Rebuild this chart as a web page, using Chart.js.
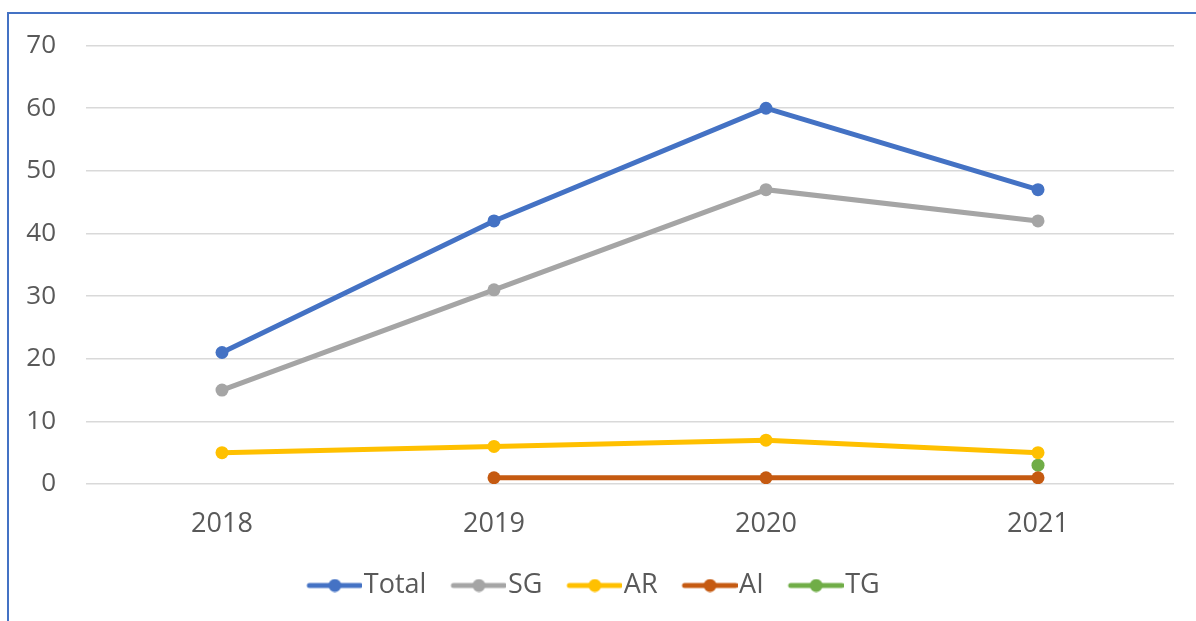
<!DOCTYPE html>
<html>
<head>
<meta charset="utf-8">
<script src="https://cdn.jsdelivr.net/npm/chart.js@4.4.0/dist/chart.umd.min.js"></script>
<style>
    body { margin: 0; background: #fff; }
    #wrap { position: relative; width: 1196px; height: 621px; overflow: hidden; }
    #frame { position: absolute; left: 7px; top: 12px; width: 1300px; height: 700px;
             border-left: 2px solid #4472C4; border-top: 2px solid #4472C4; }
    canvas { position: absolute; left: 0; top: 0; }
</style>
</head>
<body>
<div id="wrap">
    <div id="frame"></div>
    <canvas id="lineChart" width="1196" height="621"></canvas>
</div>
<script>
// chart data
const years = ['2018', '2019', '2020', '2021'];
const totalValues = [21, 42, 60, 47];
const sgValues = [15, 31, 47, 42];
const arValues = [5, 6, 7, 5];
const aiValues = [null, 1, 1, 1];
const tgValues = [null, null, null, 3];
const yTicks = [0, 10, 20, 30, 40, 50, 60, 70];

const textColor = '#595959';
const fontFamily = '"Open Sans", "Noto Sans", sans-serif';

// legend marker: short line with a dot, drawn on the right side of the canvas
// so it ends right where the label text starts
function legendMarker(color) {
    const c = document.createElement('canvas');
    c.width = 80;
    c.height = 14;
    const g = c.getContext('2d');
    g.strokeStyle = color;
    g.lineWidth = 5;
    g.lineCap = 'round';
    g.beginPath();
    g.moveTo(27, 7);
    g.lineTo(78, 7);
    g.stroke();
    g.fillStyle = color;
    g.beginPath();
    g.arc(52.5, 7, 6.5, 0, Math.PI * 2);
    g.fill();
    return c;
}

function series(label, data, color) {
    return {
        label: label,
        data: data,
        borderColor: color,
        backgroundColor: color,
        borderWidth: 5,
        pointRadius: 6.5,
        pointHoverRadius: 6.5,
        pointBorderWidth: 0,
        pointBackgroundColor: color,
        tension: 0,
        spanGaps: false,
        fill: false
    };
}

const ctx = document.getElementById('lineChart').getContext('2d');
const lineChart = new Chart(ctx, {
    type: 'line',
    data: {
        labels: years,
        datasets: [
            series('Total', totalValues, '#4472C4'),
            series('SG', sgValues, '#A5A5A5'),
            series('AR', arValues, '#FFC000'),
            series('AI', aiValues, '#C55A11'),
            series('TG', tgValues, '#70AD47')
        ]
    },
    options: {
        responsive: false,
        animation: false,
        layout: {
            padding: { left: 0, right: 22, top: 44, bottom: 12 }
        },
        scales: {
            x: {
                offset: true,
                grid: { display: false, drawTicks: false },
                border: { display: false },
                ticks: {
                    color: textColor,
                    padding: 24,
                    font: { family: fontFamily, size: 27 }
                },
                afterFit: function(scale) { scale.height = 76; }
            },
            y: {
                min: 0,
                max: 70,
                afterBuildTicks: function(scale) {
                    scale.ticks = yTicks.map(v => ({ value: v }));
                },
                grid: { color: '#d9d9d9', lineWidth: 1.5, drawTicks: false },
                border: { display: false },
                ticks: {
                    color: textColor,
                    padding: 30,
                    font: { family: fontFamily, size: 26 }
                },
                afterFit: function(scale) { scale.width = 86; }
            }
        },
        plugins: {
            tooltip: { enabled: false },
            legend: {
                position: 'bottom',
                labels: {
                    color: textColor,
                    font: { family: fontFamily, size: 27 },
                    usePointStyle: true,
                    pointStyleWidth: 56,
                    boxHeight: 14,
                    padding: 12,
                    generateLabels: function(chart) {
                        return chart.data.datasets.map((ds, i) => ({
                            text: ds.label,
                            fontColor: textColor,
                            pointStyle: legendMarker(ds.borderColor),
                            strokeStyle: 'rgba(0,0,0,0)',
                            fillStyle: 'rgba(0,0,0,0)',
                            lineWidth: 0,
                            hidden: false,
                            datasetIndex: i
                        }));
                    }
                }
            }
        }
    }
});
</script>
</body>
</html>
